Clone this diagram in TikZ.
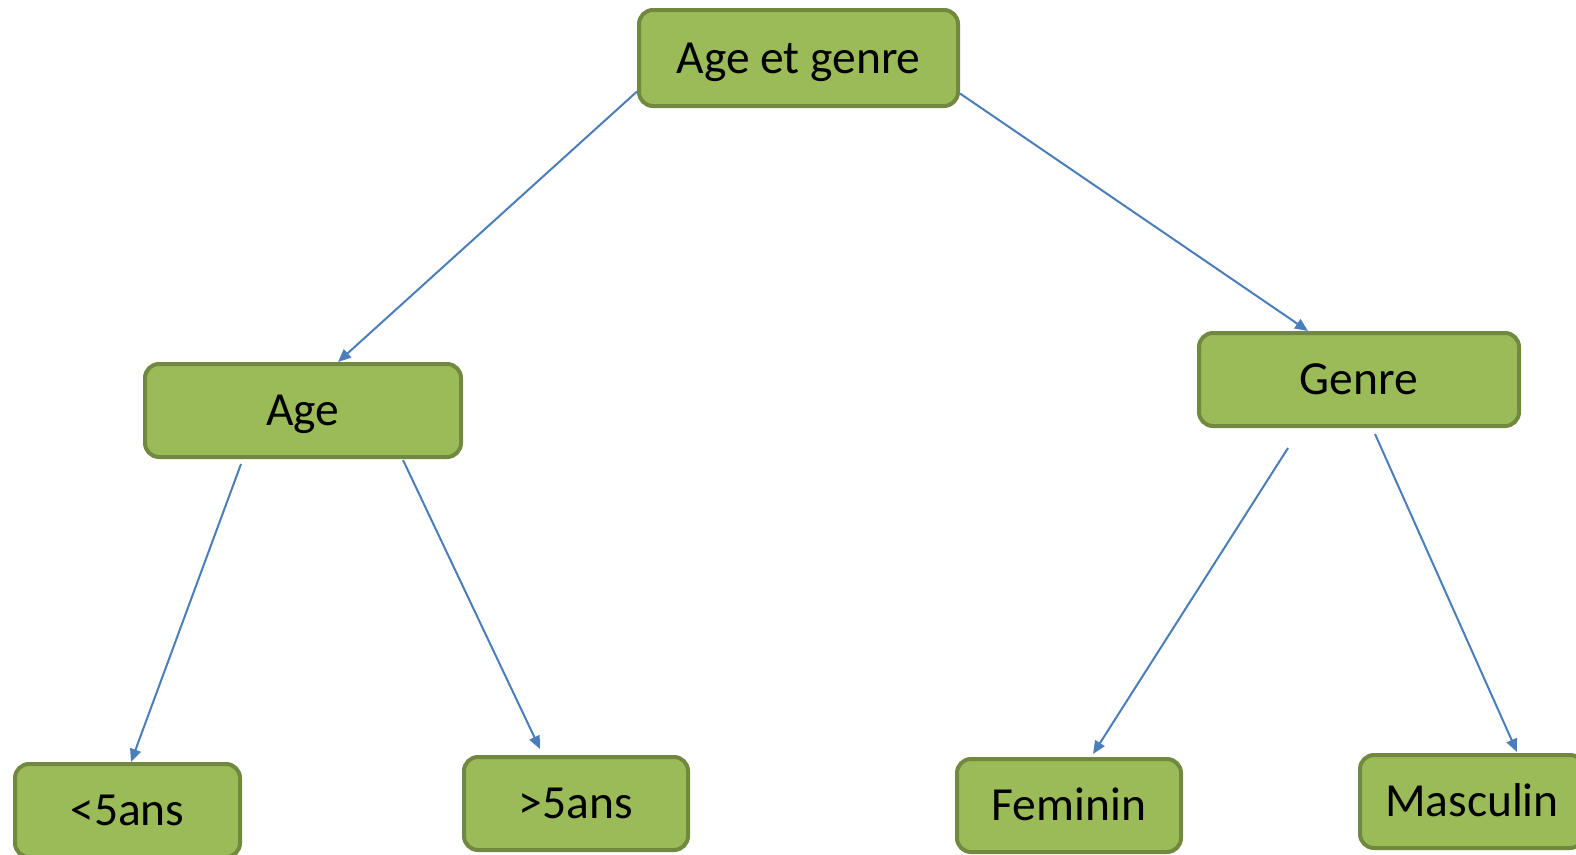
\documentclass[tikz,border=0pt]{standalone}
\usepackage{fontspec}
\setmainfont{Carlito}
\usetikzlibrary{arrows.meta}
\definecolor{boxfill}{HTML}{9BBB59}
\definecolor{boxline}{HTML}{71893F}
\definecolor{arrowblue}{HTML}{4A7EBB}
\begin{document}
\begin{tikzpicture}[x=1pt,y=-1pt,
  box/.style={draw=boxline, fill=boxfill, line width=4pt, rounded corners=14pt,
    inner sep=0pt, text height=40pt, text depth=10pt,
    font=\fontsize{47.5}{57}\selectfont, text=black},
  conn/.style={draw=arrowblue, line width=2pt, -{Triangle[length=13pt,width=11pt]}}]
\useasboundingbox (0,0) rectangle (1576,854);
\clip (0,0) rectangle (1576,854);
\node[box, minimum width=319pt, minimum height=96pt] (top) at (798.5,58) {Age et genre};
\node[box, minimum width=316pt, minimum height=93pt] (age) at (303,410.5) {Age};
\node[box, minimum width=320pt, minimum height=93pt] (genre) at (1359,379.5) {Genre};
\node[box, minimum width=225pt, minimum height=93pt] (lt) at (127.5,810.5) {<5ans};
\node[box, minimum width=224pt, minimum height=93pt] (gt) at (576,803.5) {>5ans};
\node[box, minimum width=224pt, minimum height=93pt] (fem) at (1069,805.5) {Feminin};
\node[box, minimum width=224pt, minimum height=93pt] (mas) at (1472,801.5) {Masculin};
\draw[conn] ([yshift=-33.5pt]top.west) -- ([xshift=35pt]age.north);
\draw[conn] ([yshift=-35.5pt]top.east) -- ([xshift=-51pt]genre.north);
\draw[conn] ([xshift=-62pt,yshift=-5pt]age.south) -- ([xshift=3.5pt]lt.north);
\draw[conn] ([xshift=100pt,yshift=-1pt]age.south) -- ([xshift=-36pt,yshift=6pt]gt.north);
\draw[conn] ([xshift=-71pt,yshift=-20pt]genre.south) -- ([xshift=24pt,yshift=3pt]fem.north);
\draw[conn] ([xshift=16pt,yshift=-6pt]genre.south) -- ([xshift=45pt,yshift=1pt]mas.north);
\end{tikzpicture}
\end{document}
